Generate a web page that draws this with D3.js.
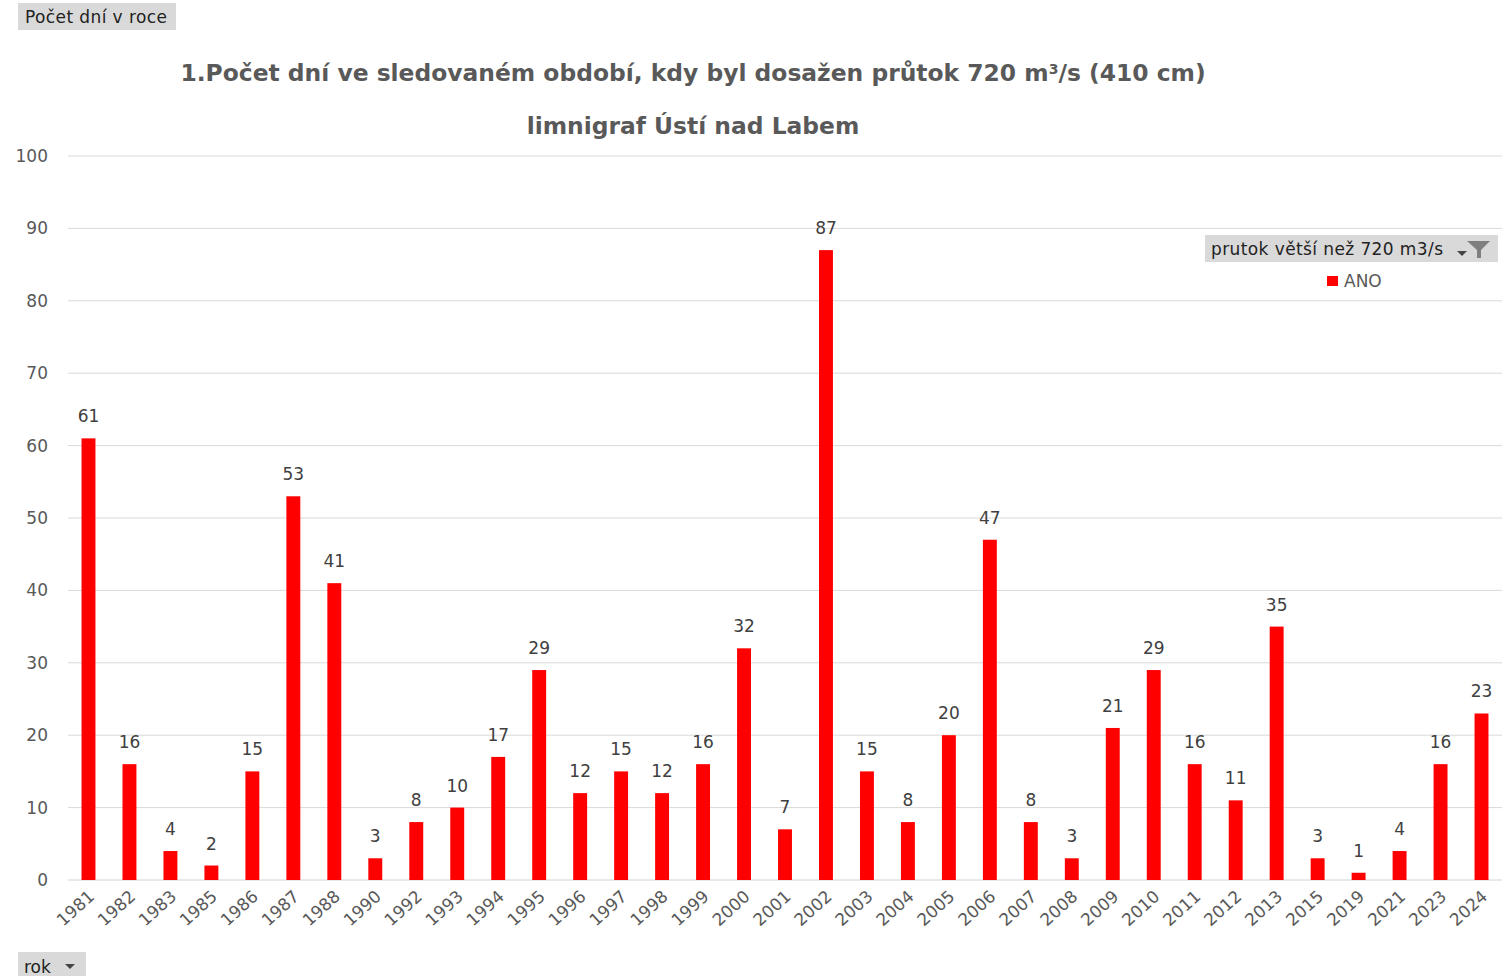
<!DOCTYPE html>
<html>
<head>
<meta charset="utf-8">
<script src="https://cdn.jsdelivr.net/npm/d3@7"></script>
<style>
  body { margin: 0; background: #fff; font-family: "DejaVu Sans", Verdana, sans-serif; }
</style>
</head>
<body>
<div id="container"></div>
<script>
const years = ["1981","1982","1983","1985","1986","1987","1988","1990","1992","1993","1994","1995","1996","1997","1998","1999","2000","2001","2002","2003","2004","2005","2006","2007","2008","2009","2010","2011","2012","2013","2015","2019","2021","2023","2024"]
const days = [61,16,4,2,15,53,41,3,8,10,17,29,12,15,12,16,32,7,87,15,8,20,47,8,3,21,29,16,11,35,3,1,4,16,23]
const yTicks = [0,10,20,30,40,50,60,70,80,90,100]

const width = 1504
const height = 976
const plotLeft = 68, plotRight = 1502, plotTop = 156, plotBottom = 880

const svg = d3.select("#container").append("svg")
    .attr("width", width)
    .attr("height", height)

const x = d3.scaleBand()
    .domain(years)
    .range([plotLeft, plotRight])
    .paddingInner(0.66)
    .paddingOuter(0.33)

const y = d3.scaleLinear()
    .domain([0, 100])
    .range([plotBottom, plotTop])

// grid
svg.append("g")
    .selectAll("line")
    .data(yTicks)
    .enter().append("line")
    .attr("x1", plotLeft)
    .attr("x2", plotRight)
    .attr("y1", d => y(d))
    .attr("y2", d => y(d))
    .attr("stroke", d => d === 0 ? "#c8d4dc" : "#d9d9d9")
    .attr("stroke-width", 1)

svg.append("g")
    .selectAll("text")
    .data(yTicks)
    .enter().append("text")
    .attr("x", 48)
    .attr("y", d => y(d) + 6)
    .attr("text-anchor", "end")
    .attr("fill", "#595959")
    .style("font-size", "17px")
    .text(d => d)

// bars
svg.append("g")
    .selectAll("rect")
    .data(years)
    .enter().append("rect")
    .attr("x", d => x(d))
    .attr("y", (d, i) => y(days[i]))
    .attr("width", x.bandwidth())
    .attr("height", (d, i) => y(0) - y(days[i]))
    .attr("fill", "#ff0000")

// value labels
svg.append("g")
    .selectAll("text")
    .data(years)
    .enter().append("text")
    .attr("x", d => x(d) + x.bandwidth() / 2)
    .attr("y", (d, i) => y(days[i]) - 16)
    .attr("text-anchor", "middle")
    .attr("fill", "#404040")
    .style("font-size", "17px")
    .text((d, i) => days[i])

// x labels
svg.append("g")
    .selectAll("text")
    .data(years)
    .enter().append("text")
    .attr("transform", d => `translate(${x(d) + x.bandwidth() / 2 + 7}, ${plotBottom + 18}) rotate(-42)`)
    .attr("text-anchor", "end")
    .attr("fill", "#595959")
    .style("font-size", "17px")
    .text(d => d)

// titles
svg.append("text")
    .attr("x", 693)
    .attr("y", 81)
    .attr("text-anchor", "middle")
    .attr("fill", "#595959")
    .style("font-size", "23.4px")
    .style("font-weight", "bold")
    .html("1.Počet dní ve sledovaném období, kdy byl dosažen průtok 720 m<tspan dy='-7' style='font-size:14px'>3</tspan><tspan dy='7'>/s (410 cm)</tspan>")

svg.append("text")
    .attr("x", 693)
    .attr("y", 134)
    .attr("text-anchor", "middle")
    .attr("fill", "#595959")
    .style("font-size", "23.4px")
    .style("font-weight", "bold")
    .text("limnigraf Ústí nad Labem")

// top-left field button
svg.append("rect")
    .attr("x", 18).attr("y", 3).attr("width", 158).attr("height", 27)
    .attr("fill", "#d9d9d9")
svg.append("text")
    .attr("x", 25).attr("y", 23)
    .attr("fill", "#222")
    .style("font-size", "17px")
    .style("letter-spacing", "0.4px")
    .text("Počet dní v roce")

// legend
svg.append("rect")
    .attr("x", 1205).attr("y", 235).attr("width", 293).attr("height", 27)
    .attr("fill", "#d9d9d9")
svg.append("text")
    .attr("x", 1211).attr("y", 255)
    .attr("fill", "#222")
    .style("font-size", "17px")
    .style("letter-spacing", "0.4px")
    .text("prutok větší než 720 m3/s")
// dropdown + filter icon
svg.append("path")
    .attr("d", "M1457,251 L1467,251 L1462,256 Z")
    .attr("fill", "#444")
svg.append("path")
    .attr("d", "M1467,241 L1490,241 L1481,250 L1481,258 L1477,258 L1477,250 Z")
    .attr("fill", "#7f7f7f")
svg.append("rect")
    .attr("x", 1327).attr("y", 276).attr("width", 11).attr("height", 10)
    .attr("fill", "#ff0000")
svg.append("text")
    .attr("x", 1344).attr("y", 287)
    .attr("fill", "#595959")
    .style("font-size", "17px")
    .text("ANO")

// bottom field button
svg.append("rect")
    .attr("x", 18).attr("y", 952).attr("width", 68).attr("height", 30)
    .attr("fill", "#d9d9d9")
svg.append("text")
    .attr("x", 24).attr("y", 973)
    .attr("fill", "#222")
    .style("font-size", "17px")
    .text("rok")
svg.append("path")
    .attr("d", "M65,964 L75,964 L70,969 Z")
    .attr("fill", "#444")
</script>
</body>
</html>
